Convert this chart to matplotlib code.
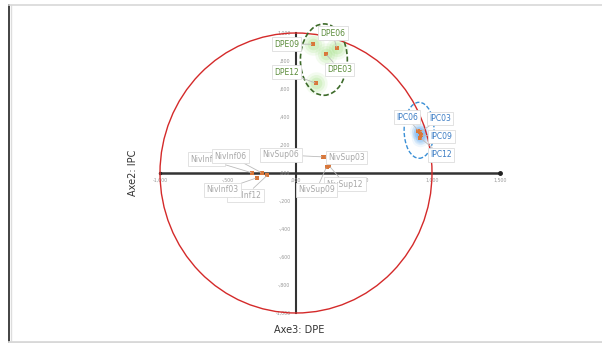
import numpy as np
import matplotlib
matplotlib.use('Agg')
import matplotlib.pyplot as plt
from matplotlib.patches import Circle, Ellipse
from matplotlib.lines import Line2D

# variable coordinates on the (Axe3, Axe2) plane
names = ['DPE09', 'DPE06', 'DPE03', 'DPE12',
         'IPC06', 'IPC03', 'IPC09', 'IPC12',
         'NivSup06', 'NivSup03', 'NivSup12', 'NivSup09',
         'NivInf09', 'NivInf06', 'NivInf12', 'NivInf03']
axe3 = [0.125, 0.30, 0.22, 0.15,
        0.90, 0.91, 0.92, 0.915,
        0.20, 0.205, 0.245, 0.225,
        -0.32, -0.25, -0.21, -0.29]
axe2 = [0.92, 0.89, 0.85, 0.64,
        0.30, 0.29, 0.27, 0.25,
        0.115, 0.115, 0.05, 0.045,
        0.0, 0.0, -0.015, -0.035]
groups = ['DPE'] * 4 + ['IPC'] * 4 + ['Niv'] * 8

x_ticks = [-1.0, -0.5, 0.0, 0.5, 1.0, 1.5]
y_ticks = [1.0, 0.8, 0.6, 0.4, 0.2, 0.0, -0.2, -0.4, -0.6, -0.8, -1.0]

# where each label box sits
label_pos = {
    'DPE09': (-0.07, 0.92), 'DPE06': (0.27, 1.00), 'DPE03': (0.32, 0.74),
    'DPE12': (-0.07, 0.72),
    'IPC06': (0.815, 0.40), 'IPC03': (1.06, 0.39), 'IPC09': (1.07, 0.26),
    'IPC12': (1.065, 0.13),
    'NivSup06': (-0.11, 0.13), 'NivSup03': (0.37, 0.11),
    'NivSup12': (0.36, -0.08), 'NivSup09': (0.15, -0.12),
    'NivInf09': (-0.66, 0.10), 'NivInf06': (-0.48, 0.12),
    'NivInf12': (-0.37, -0.16), 'NivInf03': (-0.54, -0.12),
}
colors = {'DPE': '#5b8c3a', 'IPC': '#3b7cc4', 'Niv': '#a8a8a8'}


def fmt(v):
    s = f'{v:.3f}'.replace('.', ',')
    return s.replace('0,', ',') if s.lstrip('-').startswith('0,') else s


fig = plt.figure(figsize=(6.02, 3.43), dpi=100)
ax = fig.add_axes([0, 0, 1, 1])
ax.set_xlim((0 - 296) / 136, (602 - 296) / 136)
ax.set_ylim((173 - 343) / 140, 173 / 140)
ax.axis('off')

# frame
fig.add_artist(Line2D([0.0155, 0.0155], [0, 0.985], color='#222222', lw=1.2))
fig.add_artist(Line2D([0.018, 0.018], [0, 0.985], color='#dddddd', lw=1))
fig.add_artist(Line2D([0.015, 1], [0.985, 0.985], color='#d8d8d8', lw=1.2))
fig.add_artist(Line2D([0.015, 1], [0.004, 0.004], color='#d8d8d8', lw=2))

# axes through the origin
ax.plot([-1, 1.5], [0, 0], color='#333333', lw=1.8, zorder=2)
ax.plot([1.5], [0], 'o', color='#222222', ms=2.5, zorder=2)
ax.plot([-1], [0], 'o', color='#222222', ms=1.5, zorder=2)
ax.plot([0, 0], [-1, 1], color='#333333', lw=1.5, zorder=2)

for v in x_ticks:
    ax.text(v, -0.05, fmt(v), fontsize=3.4, color='#999999', ha='center', va='center')
for v in y_ticks:
    ax.text(-0.04, v, fmt(v), fontsize=3.4, color='#999999', ha='right', va='center')

# unit circle
ax.add_patch(Circle((0, 0), 1.0, fill=False, ec='#d42a2a', lw=1.0, zorder=3))

# group ellipses
ax.add_patch(Ellipse((0.205, 0.81), 0.345, 0.51, fill=False, ec='#3d6b2a',
                     ls=(0, (3, 1.5)), lw=1.2, zorder=3))
ax.add_patch(Ellipse((0.905, 0.305), 0.22, 0.40, fill=False, ec='#3a8fd6',
                     ls=(0, (3, 1.5)), lw=1.0, zorder=3))

x = np.array(axe3)
y = np.array(axe2)
g = np.array(groups)

# soft halos
for grp, c, scale in [('DPE', '#8fdc6a', 1.0), ('IPC', '#6fb2f2', 0.6)]:
    m = g == grp
    for s, a in [(260, 0.10), (150, 0.15), (70, 0.2)]:
        ax.scatter(x[m], y[m], s=s * scale, color=c, alpha=a, lw=0, zorder=2.5)

ax.scatter(x, y, s=5, marker='s', color='#d9773a', lw=0, zorder=4)

for n, xi, yi, grp in zip(names, axe3, axe2, groups):
    lx, ly = label_pos[n]
    ax.annotate(n, (xi, yi), xytext=(lx, ly), fontsize=5.5, color=colors[grp],
                ha='center', va='center', zorder=5,
                bbox=dict(boxstyle='square,pad=0.3', fc='white', ec='#dddddd', lw=0.6),
                arrowprops=dict(arrowstyle='-', color='#bbbbbb', lw=0.6,
                                shrinkA=0, shrinkB=1))

ax.text((133 - 296) / 136, 0.0, 'Axe2: IPC', rotation=90, fontsize=7,
        color='#333333', ha='center', va='center')
ax.text(0.02, (173 - 330) / 140, 'Axe3: DPE', fontsize=7, color='#333333',
        ha='center', va='center')

fig.savefig('out.png', dpi=100)
